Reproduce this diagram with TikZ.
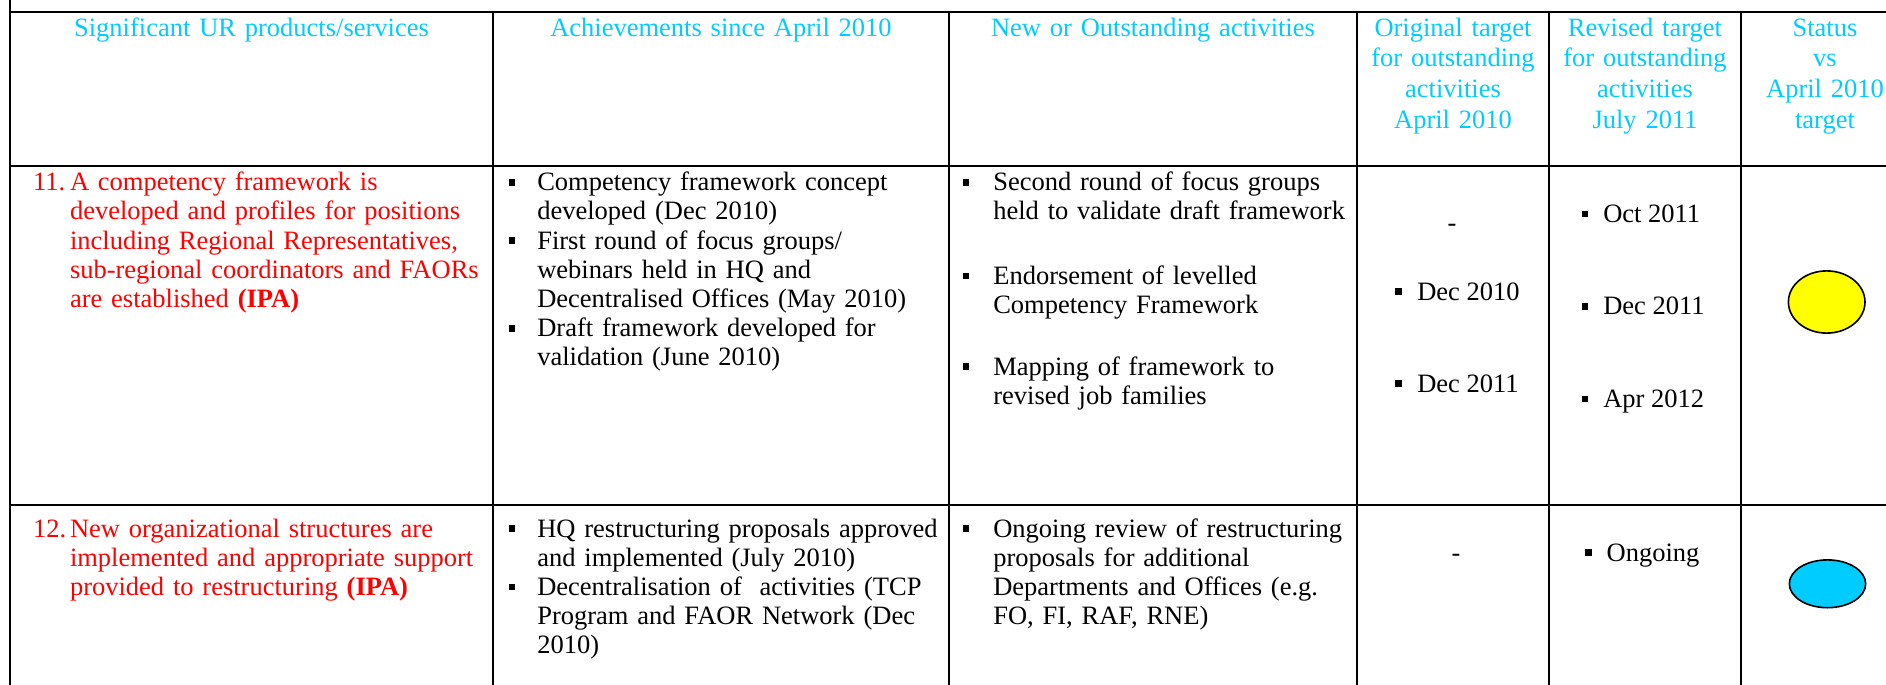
\documentclass[tikz,border=0pt]{standalone}
\usepackage{fontspec}
\setmainfont{Liberation Serif}
\usetikzlibrary{shapes.geometric}
\definecolor{hdrcyan}{RGB}{0,204,255}
\definecolor{goalred}{RGB}{255,0,0}
\definecolor{statyellow}{RGB}{255,255,0}
\definecolor{statblue}{RGB}{0,204,255}
\begin{document}
\begin{tikzpicture}[x=0.5pt,y=-0.5pt,
  every node/.style={inner sep=0pt, outer sep=0pt, font=\fontsize{13.25}{14.6}\selectfont},
  gridline/.style={line width=1pt, draw=black},
  hdr/.style={text=hdrcyan, anchor=base, align=center, text width=#1, font=\fontsize{13.25}{15.35}\selectfont},
  hdr/.default=200pt,
  goalnum/.style={text=goalred, anchor=base west},
  goaltext/.style={text=goalred, anchor=base west, align=left, text width=215pt},
  bodytext/.style={anchor=base west, align=left, text width=#1},
  bodytext/.default=205pt,
  sq/.style={rectangle, fill=black, minimum size=3.3pt},
  dashmark/.style={anchor=base},
  statmark/.style={ellipse, draw=black, line width=0.8pt, fill=#1},
]
\useasboundingbox (0,0) rectangle (1886,685);
% table rules
\draw[gridline] (10,0) -- (10,685);
\draw[gridline] (10,12) -- (1886,12);
\draw[gridline] (10,166) -- (1886,166);
\draw[gridline] (10,505) -- (1886,505);
\foreach \x in {493,949,1357,1549,1741} \draw[gridline] (\x,12) -- (\x,685);
% header
\node[hdr] (h1) at (251.5,36) {Significant UR products/services};
\node[hdr] (h2) at (721,36) {Achievements since April 2010};
\node[hdr] (h3) at (1153,36) {New or Outstanding activities};
\node[hdr=95pt] (h4) at (1453,36) {Original target\\for outstanding\\activities\\April 2010};
\node[hdr=95pt] (h5) at (1645,36) {Revised target\\for outstanding\\activities\\July 2011};
\node[hdr=80pt] (h6) at (1825,36) {Status\\vs\\April 2010\\target};
% row 11
\node[goalnum] (n11) at (33,190.7) {11.};
\node[goaltext] (g11) at (70,190.7) {A competency framework is\\developed and profiles for positions\\including Regional Representatives,\\sub-regional coordinators and FAORs\\are established \textbf{(IPA)}};
\node[sq] (a11b1) at (512,182.2) {};
\node[bodytext] (a11t1) at (537.3,190.7) {Competency framework concept\\developed (Dec 2010)};
\node[sq] (a11b2) at (512,240.6) {};
\node[bodytext] (a11t2) at (537.3,249.1) {First round of focus groups/\\webinars held in HQ and\\Decentralised Offices (May 2010)};
\node[sq] (a11b3) at (512,328.2) {};
\node[bodytext] (a11t3) at (537.3,336.7) {Draft framework developed for\\validation (June 2010)};
\node[sq] (o11b1) at (966,182.2) {};
\node[bodytext=180pt] (o11t1) at (993.3,190.7) {Second round of focus groups\\held to validate draft framework};
\node[sq] (o11b2) at (966,276) {};
\node[bodytext=180pt] (o11t2) at (993.3,284.5) {Endorsement of levelled\\Competency Framework};
\node[sq] (o11b3) at (966,366.5) {};
\node[bodytext=180pt] (o11t3) at (993.3,375) {Mapping of framework to\\revised job families};
\node[dashmark] (t11d) at (1452,231) {-};
\node[sq] (t11b1) at (1398.3,291.5) {};
\node[anchor=base west] (t11t1) at (1417.3,300) {Dec 2010};
\node[sq] (t11b2) at (1398.3,383.5) {};
\node[anchor=base west] (t11t2) at (1417.3,392) {Dec 2011};
\node[sq] (r11b1) at (1585,214) {};
\node[anchor=base west] (r11t1) at (1603.3,222.5) {Oct 2011};
\node[sq] (r11b2) at (1585,306.2) {};
\node[anchor=base west] (r11t2) at (1603.3,314.7) {Dec 2011};
\node[sq] (r11b3) at (1585,399) {};
\node[anchor=base west] (r11t3) at (1603.3,407.5) {Apr 2012};
\node[statmark=statyellow, minimum width=38.3pt, minimum height=31.1pt] (s11) at (1826.7,302) {};
% row 12
\node[goalnum] (n12) at (33,537) {12.};
\node[goaltext] (g12) at (70,537) {New organizational structures are\\implemented and appropriate support\\provided to restructuring \textbf{(IPA)}};
\node[sq] (a12b1) at (512,528.5) {};
\node[bodytext] (a12t1) at (537.3,537) {HQ restructuring proposals approved\\and implemented (July 2010)};
\node[sq] (a12b2) at (512,586.9) {};
\node[bodytext] (a12t2) at (537.3,595.4) {Decentralisation of\ \ activities (TCP\\Program and FAOR Network (Dec\\2010)};
\node[sq] (o12b1) at (966,528.5) {};
\node[bodytext=180pt] (o12t1) at (993.3,537) {Ongoing review of restructuring\\proposals for additional\\Departments and Offices (e.g.\\FO, FI, RAF, RNE)};
\node[dashmark] (t12d) at (1456,561) {-};
\node[sq] (r12b1) at (1588.3,552.5) {};
\node[anchor=base west] (r12t1) at (1606.7,561) {Ongoing};
\node[statmark=statblue, minimum width=38.2pt, minimum height=23.9pt] (s12) at (1827.5,583.8) {};
\end{tikzpicture}
\end{document}
